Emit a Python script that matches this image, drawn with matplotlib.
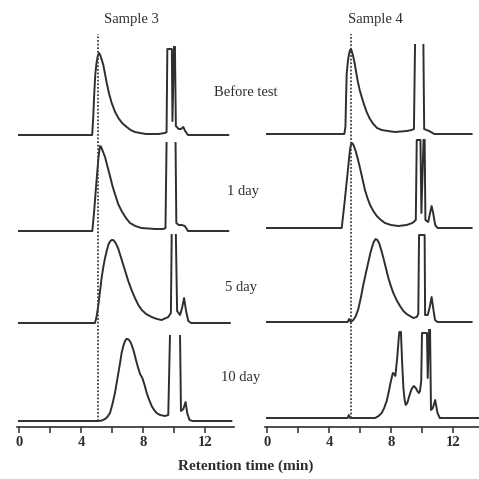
import numpy as np
import matplotlib
matplotlib.use("Agg")
import matplotlib.pyplot as plt

nan = np.nan

# retention time (min) and detector response, one trace per test stage
s3_before_t = [0, 4.72, 4.78, 4.85, 4.92, 5.0, 5.08, 5.16, 5.24, 5.32, 5.44, 5.55, 5.66, 5.8, 5.98, 6.2, 6.41, 6.65, 6.95, 7.2,
               7.48, 7.8, 8.2, 9.0, 9.42, 9.52, 9.57, 9.86, 9.9, 10.0, nan, 10.06, 10.12, 10.3, 10.45, 10.6, 10.72, 10.9, 13.5]
s3_before_h = [0, 0, 15, 40, 60, 72, 79, 82, 80, 76, 70, 61, 52, 42, 32, 23, 17, 12, 8, 5,
               3, 2, 1, 1, 2, 3, 86, 86, 14, 88, nan, 88, 9, 6, 6, 8, 4, 0, 0]
s3_1day_t = [0, 4.73, 4.85, 5.0, 5.12, 5.18, 5.23, 5.3, 5.4, 5.55, 5.7, 5.87, 6.03, 6.19, 6.4, 6.62, 6.9, 7.16, 7.5, 7.9,
             8.8, 9.31, 9.45, 9.52, nan, 10.1, 10.15, 10.3, 10.5, 10.7, 10.9, 13.5]
s3_1day_h = [0, 0, 20, 50, 72, 80, 85, 84, 80, 74, 65, 55, 45, 37, 27, 20, 13, 8, 5, 3,
             2, 2, 3, 88, nan, 88, 8, 6, 6, 5, 0, 0]
s3_5day_t = [0, 4.9, 5.0, 5.12, 5.22, 5.33, 5.44, 5.55, 5.66, 5.76, 5.87, 5.98, 6.08, 6.19, 6.3, 6.41, 6.57, 6.73, 6.89, 7.05,
             7.26, 7.48, 7.7, 7.92, 8.2, 8.56, 8.9, 9.2, 9.63, 9.8, 9.85, nan, 10.12, 10.2, 10.39, 10.52, 10.65, 10.78, 10.92, 11.1, 13.6]
s3_5day_h = [0, 0, 6, 18, 31, 45, 56, 65, 72, 78, 81.5, 83, 83, 81, 78, 74, 66, 58, 50, 42,
             33, 25, 18, 13, 9, 6, 4, 3, 6, 10, 88, nan, 88, 12, 8, 15, 25, 12, 2, 0, 0]
s3_10day_t = [0, 5.12, 5.35, 5.55, 5.7, 5.87, 6.03, 6.19, 6.3, 6.41, 6.52, 6.62, 6.73, 6.84, 6.93, 7.01, 7.1, 7.19, 7.27, 7.4,
              7.53, 7.67, 7.81, 7.96, 8.1, 8.24, 8.4, 8.56, 8.72, 8.88, 9.1, 9.42, 9.63, 9.74, nan, 10.39, 10.45, 10.6, 10.75, 10.85,
              11.0, 11.2, 13.7]
s3_10day_h = [0, 0, 0.5, 2, 4, 8, 17, 28, 38, 48, 58, 68, 75, 80, 82, 82, 81, 79, 76, 70,
              62, 54, 47, 43, 36, 28, 21, 15, 11, 8, 6, 5, 6, 85, nan, 85, 10, 12, 19, 8,
              1, 0, 0]

s4_before_t = [0, 4.99, 5.06, 5.1, 5.14, 5.22, 5.29, 5.36, 5.42, 5.5, 5.57, 5.64, 5.75, 5.85, 5.98, 6.11, 6.27, 6.43, 6.64, 6.86,
               7.1, 7.4, 7.8, 8.26, 9.01, 9.33, 9.48, 9.55, nan, 10.09, 10.14, 10.46, 10.8, 13.2]
s4_before_h = [0, 0, 7, 35, 60, 73, 80, 84, 85, 81, 77, 72, 62, 53, 44, 37, 29, 22, 15, 10,
               6, 4, 3, 2, 3, 4, 5, 89, nan, 89, 5, 3, 0, 0]
s4_1day_t = [0, 4.82, 5.0, 5.2, 5.35, 5.41, 5.46, 5.52, 5.58, 5.65, 5.72, 5.86, 6.0, 6.16, 6.32, 6.48, 6.65, 6.86, 7.08, 7.35,
             7.61, 8.0, 8.47, 9.01, 9.38, 9.6, 9.66, 9.9, 9.96, 10.1, nan, 10.17, 10.22, 10.4, 10.52, 10.62, 10.72, 10.85, 11.0, 13.2]
s4_1day_h = [0, 0, 25, 55, 78, 83, 85, 84.5, 83, 80, 77, 69, 60, 49, 38, 30, 23, 17, 12, 8,
             5, 3, 2, 3, 5, 8, 88, 88, 15, 88, nan, 88, 8, 6, 15, 22, 15, 3, 0, 0]
s4_5day_t = [0, 5.2, 5.3, 5.4, 5.57, 5.73, 5.89, 6.05, 6.21, 6.38, 6.54, 6.67, 6.8, 6.9, 7.01, 7.12, 7.23, 7.37, 7.51, 7.67,
             7.83, 7.99, 8.15, 8.36, 8.58, 8.8, 9.01, 9.22, 9.44, 9.66, 9.76, 9.81, 10.17, 10.2, 10.37, 10.5, 10.62, 10.74, 10.84, 11.0,
             13.2]
s4_5day_h = [0, 0, 3, 0, 2, 6, 13, 24, 37, 49, 60, 69, 76, 80.5, 83, 82, 79, 72, 64, 54,
             44, 36, 29, 22, 16, 11, 8, 6, 4, 5, 8, 87, 87, 7, 7, 15, 25, 12, 2, 0,
             0]
s4_10day_t = [0, 5.2, 5.28, 5.36, 6.97, 7.2, 7.4, 7.56, 7.72, 7.84, 7.94, 8.04, 8.12, 8.2, 8.28, 8.4, 8.5, 8.54, 8.64, 8.72,
              8.8, 8.88, 8.95, 9.05, 9.2, 9.33, 9.47, 9.6, 9.7, 9.8, 9.87, 9.95, 10.0, 10.32, 10.37, 10.46, nan, 10.52, 10.58, 10.7,
              10.85, 11.0, 11.15, 13.7]
s4_10day_h = [0, 0, 3, 0, 0, 2, 5, 10, 17, 25, 33, 40, 45, 44, 42, 60, 80, 86, 86, 55,
              30, 18, 13, 15, 23, 29, 32, 30, 27, 25, 27, 37, 85, 85, 40, 88, nan, 88, 8, 10,
              18, 5, 0, 0]

stages = ["Before test", "1 day", "5 day", "10 day"]
ticks = [0, 2, 4, 6, 8, 10, 12]
tick_labels = ["0", "", "4", "", "8", "", "12"]
marker_t = {"Sample 3": 5.12, "Sample 4": 5.4}

panels = {
    "Sample 3": [(s3_before_t, s3_before_h), (s3_1day_t, s3_1day_h),
                 (s3_5day_t, s3_5day_h), (s3_10day_t, s3_10day_h)],
    "Sample 4": [(s4_before_t, s4_before_h), (s4_1day_t, s4_1day_h),
                 (s4_5day_t, s4_5day_h), (s4_10day_t, s4_10day_h)],
}

# layout in pixels of the 479x479 image
W = H = 479
PXMIN = 15.5
offsets = {"Sample 3": [292, 196, 104, 6], "Sample 4": [293, 199, 105, 9]}
x0_px = {"Sample 3": 19, "Sample 4": 267}
xmax = {"Sample 3": 13.85, "Sample 4": 13.7}

plt.rcParams['font.family'] = ['Liberation Serif', 'DejaVu Serif']
ink = '#2e2e2e'

fig = plt.figure(figsize=(W / 100, H / 100), dpi=100)

for name in ["Sample 3", "Sample 4"]:
    xmin = -0.1
    left = x0_px[name] + xmin * PXMIN
    width = (xmax[name] - xmin) * PXMIN
    ax = fig.add_axes([left / W, (H - 427) / H, width / W, 395 / H])
    ax.set_xlim(xmin, xmax[name])
    ax.set_ylim(0, 395)
    for (t, h), off in zip(panels[name], offsets[name]):
        ax.plot(t, np.array(h) + off, color=ink, lw=1.4, solid_joinstyle='round')
    ax.plot([marker_t[name]] * 2, [offsets[name][-1], 393], color='#3b4536',
            lw=1.3, ls=(0, (1, 1)))
    for s in ['left', 'right', 'top']:
        ax.spines[s].set_visible(False)
    ax.spines['bottom'].set_color(ink)
    ax.spines['bottom'].set_linewidth(1.2)
    ax.set_yticks([])
    ax.set_xticks(ticks)
    ax.set_xticklabels(tick_labels, fontsize=10.5, fontweight='bold', color=ink)
    ax.tick_params(axis='x', direction='out', length=4, width=1.1, color=ink, pad=2.5)
    ax.patch.set_alpha(0)

fig.text(131 / W, 1 - 19 / H, "Sample 3", ha='center', va='center', fontsize=10.5, color=ink)
fig.text(375 / W, 1 - 19 / H, "Sample 4", ha='center', va='center', fontsize=10.5, color=ink)
for label, (xc, yc) in zip(stages, [(246, 92), (243, 192), (241, 287), (241, 377)]):
    fig.text(xc / W, 1 - yc / H, label, ha='center', va='center', fontsize=10.5, color=ink)
fig.text(246 / W, 1 - 466 / H, "Retention time (min)", ha='center', va='center',
         fontsize=11, fontweight='bold', color=ink)

fig.savefig("out.png", dpi=100)
